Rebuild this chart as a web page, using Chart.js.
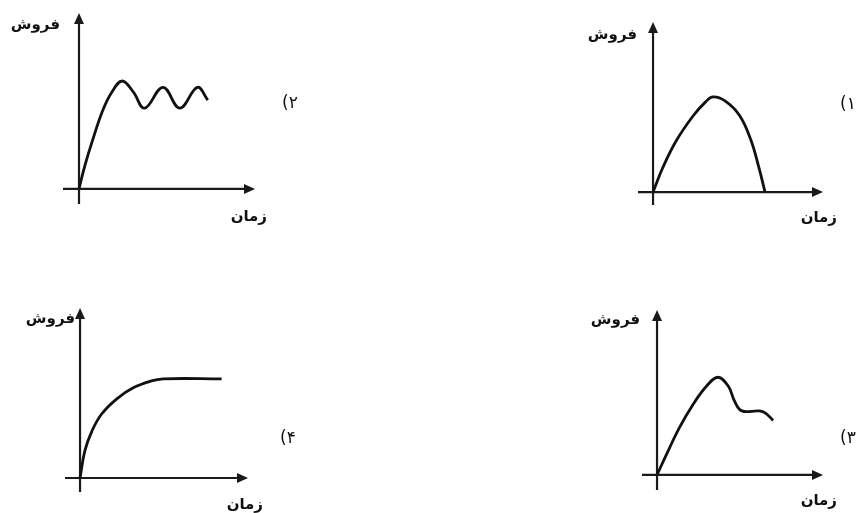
<!DOCTYPE html>
<html>
<head>
<meta charset="utf-8">
<script src="https://cdn.jsdelivr.net/npm/chart.js@4/dist/chart.umd.min.js"></script>
<style>
  html,body{margin:0;padding:0;background:#fff;}
  #wrap{position:relative;width:863px;height:513px;overflow:hidden;}
  .cv{position:absolute;}
</style>
</head>
<body>
<div id="wrap">
  <div class="cv" style="left:0;top:0;width:431px;height:256px"><canvas id="c2"></canvas></div>
  <div class="cv" style="left:431px;top:0;width:432px;height:256px"><canvas id="c1"></canvas></div>
  <div class="cv" style="left:0;top:256px;width:431px;height:257px"><canvas id="c4"></canvas></div>
  <div class="cv" style="left:431px;top:256px;width:432px;height:257px"><canvas id="c3"></canvas></div>
</div>
<script>
// ---- text ----
const yAxisLabel = 'فروش';
const xAxisLabel = 'زمان';
const panelDigits = ['۱', '۲', '۳', '۴'];
const panelParen = '(';

// ---- data (time, sales) in arbitrary units ----
const curve1X = [0, 0.6, 1.45, 2.5, 3.3, 3.75, 4.5, 5.4, 6.1, 6.6, 7.0];
const curve1Y = [0, 1.5, 3.2, 4.75, 5.65, 5.95, 5.7, 4.8, 3.3, 1.6, 0];

const curve2X = [0, 0.35, 0.85, 1.5, 2.05, 2.7, 3.4, 4.1, 5.25, 6.3, 7.4, 8.05];
const curve2Y = [0, 1.4, 3.05, 4.95, 6.05, 6.75, 6.05, 5.05, 6.35, 5.05, 6.35, 5.55];

const curve3X = [0, 0.6, 1.4, 2.25, 3.1, 3.8, 4.45, 4.85, 5.3, 6.4, 6.8, 7.25];
const curve3Y = [0, 1.3, 2.95, 4.4, 5.55, 6.1, 5.55, 4.6, 4.0, 4.0, 3.85, 3.4];

const curve4X = [0, 0.3, 0.75, 1.35, 2.3, 3.35, 4.4, 5.2, 8.85];
const curve4Y = [0, 1.7, 2.95, 4.0, 4.95, 5.65, 6.05, 6.2, 6.2];

function pts(xs, ys){ return xs.map((v,i)=>({x:v, y:ys[i]})); }

const axesPlugin = {
  id: 'axesArrows',
  beforeDatasetsDraw(chart, args, o) {
    const ctx = chart.ctx;
    const sx = chart.scales.x, sy = chart.scales.y;
    const x0 = sx.getPixelForValue(0), y0 = sy.getPixelForValue(0);
    const L = sx.getPixelForValue(sx.min), R = sx.getPixelForValue(sx.max);
    const T = sy.getPixelForValue(sy.max), B = sy.getPixelForValue(sy.min);
    const ah = 11, aw = 5;
    ctx.save();
    ctx.strokeStyle = '#1a1a1a';
    ctx.fillStyle = '#1a1a1a';
    ctx.lineWidth = 2.2;
    // x axis
    ctx.beginPath(); ctx.moveTo(L, y0); ctx.lineTo(R - ah + 1, y0); ctx.stroke();
    ctx.beginPath(); ctx.moveTo(R, y0); ctx.lineTo(R - ah, y0 - aw); ctx.lineTo(R - ah, y0 + aw); ctx.closePath(); ctx.fill();
    // y axis
    ctx.beginPath(); ctx.moveTo(x0, B); ctx.lineTo(x0, T + ah - 1); ctx.stroke();
    ctx.beginPath(); ctx.moveTo(x0, T); ctx.lineTo(x0 - aw, T + ah); ctx.lineTo(x0 + aw, T + ah); ctx.closePath(); ctx.fill();
    // labels
    ctx.fillStyle = '#111';
    ctx.textBaseline = 'middle';
    ctx.font = 'bold 15px "DejaVu Sans"';
    ctx.textAlign = 'right';
    ctx.direction = 'rtl';
    ctx.fillText(yAxisLabel, x0 - o.yLabDx, T + o.yLabDy);
    ctx.fillText(xAxisLabel, R + o.xLabDx, y0 + o.xLabDy);
    ctx.direction = 'ltr';
    ctx.textAlign = 'left';
    ctx.font = '17px "DejaVu Sans"';
    ctx.fillText(panelParen, o.panelX, o.panelY);
    const pw = ctx.measureText(panelParen).width;
    ctx.fillText(o.panel, o.panelX + pw, o.panelY);
    ctx.restore();
  }
};

function makeChart(id, xs, ys, range, pad, lab) {
  new Chart(document.getElementById(id), {
    type: 'line',
    data: { datasets: [{
      data: pts(xs, ys),
      borderColor: '#111',
      borderWidth: 2.8,
      pointRadius: 0,
      fill: false,
      tension: 0.4,
      clip: false
    }]},
    options: {
      responsive: true,
      maintainAspectRatio: false,
      animation: false,
      events: [],
      layout: { padding: pad },
      plugins: { legend: {display:false}, tooltip: {enabled:false}, axesArrows: lab },
      scales: {
        x: { type:'linear', display:false, min: range[0], max: range[1] },
        y: { type:'linear', display:false, min: range[2], max: range[3] }
      }
    },
    plugins: [axesPlugin]
  });
}

// panel 2 (top-left)
makeChart('c2', curve2X, curve2Y, [-1, 11, -0.94, 11],
  {left:63, right:176, top:13, bottom:52},
  {yLabDx:19, yLabDy:12, xLabDx:12, xLabDy:28, panel:panelDigits[1], panelX:282, panelY:104});
// panel 1 (top-right)
makeChart('c1', curve1X, curve1Y, [-0.94, 10.625, -0.81, 10.625],
  {left:207, right:40, top:22, bottom:51},
  {yLabDx:16, yLabDy:13, xLabDx:14, xLabDy:26, panel:panelDigits[0], panelX:409, panelY:105});
// panel 4 (bottom-left)
makeChart('c4', curve4X, curve4Y, [-0.94, 10.5, -0.875, 10.625],
  {left:65, right:183, top:52, bottom:21},
  {yLabDx:5, yLabDy:11, xLabDx:15, xLabDy:27, panel:panelDigits[3], panelX:280, panelY:183});
// panel 3 (bottom-right)
makeChart('c3', curve3X, curve3Y, [-0.94, 10.375, -0.94, 10.3],
  {left:211, right:40, top:54, bottom:23},
  {yLabDx:17, yLabDy:10, xLabDx:14, xLabDy:26, panel:panelDigits[2], panelX:409, panelY:183});
</script>
</body>
</html>
